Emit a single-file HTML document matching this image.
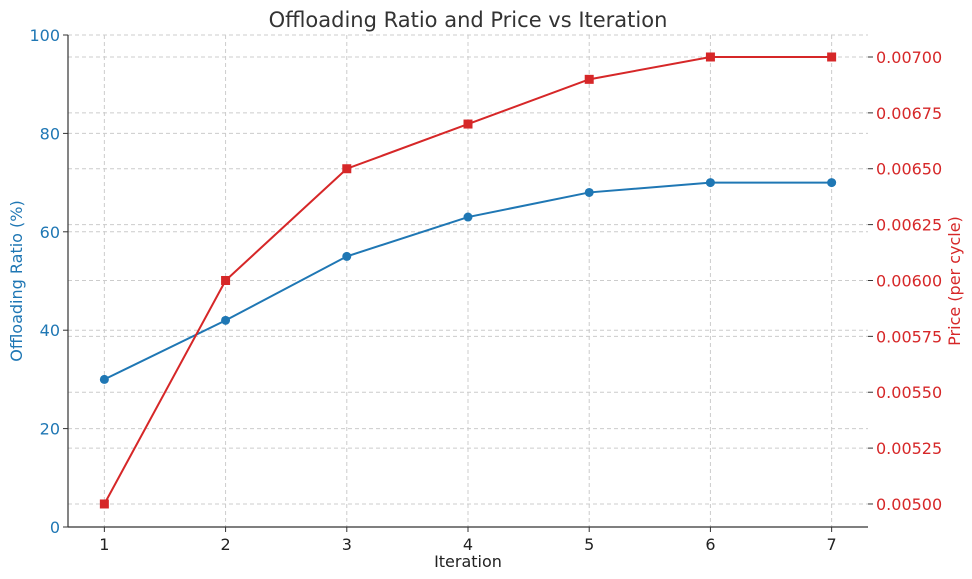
<!DOCTYPE html>
<html><head><meta charset="utf-8">
<style>
body{margin:0;background:#fff;}
svg{display:block;font-family:"DejaVu Sans","Liberation Sans",sans-serif;}
</style></head>
<body>
<svg id="chart" width="972" height="579" viewBox="0 0 972 579">
<g id="grid"></g>
<g id="axes"></g>
<g id="series"></g>
<text x="468" y="27" text-anchor="middle" font-size="21" fill="#333">Offloading Ratio and Price vs Iteration</text>
<text x="468" y="567" text-anchor="middle" font-size="16" fill="#222">Iteration</text>
<text transform="translate(22,281) rotate(-90)" text-anchor="middle" font-size="16" fill="#1f77b4">Offloading Ratio (%)</text>
<text transform="translate(960,281) rotate(-90)" text-anchor="middle" font-size="16" fill="#d62728">Price (per cycle)</text>
</svg>
<script>
const iterations=[1,2,3,4,5,6,7];
const ratioValues=[30,42,55,63,68,70,70];
const priceValues=[0.005,0.006,0.0065,0.0067,0.0069,0.007,0.007];
const leftTicks=[0,20,40,60,80,100];
const rightTicks=[0.005,0.00525,0.0055,0.00575,0.006,0.00625,0.0065,0.00675,0.007];
const NS="http://www.w3.org/2000/svg";
const L=68,R=868,T=35,B=527;
const xS=v=>L+(v-0.7)/(6.6)*(R-L);
const yL=v=>B-v/100*(B-T);
const pMin=0.004897,pMax=0.0070984;
const yR=v=>B-(v-pMin)/(pMax-pMin)*(B-T);
function mk(tag,attrs,parent){const e=document.createElementNS(NS,tag);for(const k in attrs)e.setAttribute(k,attrs[k]);parent.appendChild(e);return e;}
const grid=document.getElementById('grid'),axes=document.getElementById('axes'),series=document.getElementById('series');
iterations.forEach(v=>{
 const x=xS(v);
 const g=mk('line',{x1:x,x2:x,y1:T,y2:B,stroke:'#ccc','stroke-dasharray':'4,3','stroke-width':1},grid);
 
 
 mk('line',{x1:x,x2:x,y1:B,y2:B+5,stroke:'#333'},axes);
 const t=mk('text',{x:x,y:B+23,'text-anchor':'middle','font-size':16,fill:'#222'},axes);t.textContent=v;
 
 
});
leftTicks.forEach(v=>{
 const y=yL(v);
 const g=mk('line',{x1:L,x2:R,y1:y,y2:y,stroke:'#ccc','stroke-dasharray':'4,3'},grid);
 
 
 mk('line',{x1:L-5,x2:L,y1:y,y2:y,stroke:'#333'},axes);
 const t=mk('text',{x:L-8,y:y+6,'text-anchor':'end','font-size':16,fill:'#1f77b4'},axes);t.textContent=v;
 
 
});
rightTicks.forEach(v=>{
 const y=yR(v);
 const g=mk('line',{x1:L,x2:R,y1:y,y2:y,stroke:'#ccc','stroke-dasharray':'4,3'},grid);
 
 
 mk('line',{x1:R,x2:R+5,y1:y,y2:y,stroke:'#333'},axes);
 const t=mk('text',{x:R+8,y:y+6,'text-anchor':'start','font-size':16,fill:'#d62728'},axes);t.textContent=v.toFixed(5);
 
 
});
mk('line',{x1:L,x2:L,y1:T,y2:B,stroke:'#333','stroke-width':1.2},axes);
mk('line',{x1:L,x2:R,y1:B,y2:B,stroke:'#333','stroke-width':1.2},axes);
const bp=iterations.map((v,i)=>xS(v)+','+yL(ratioValues[i])).join(' ');
const bl=mk('polyline',{points:bp,fill:'none',stroke:'#1f77b4','stroke-width':2},series);


const rp=iterations.map((v,i)=>xS(v)+','+yR(priceValues[i])).join(' ');
const rl=mk('polyline',{points:rp,fill:'none',stroke:'#d62728','stroke-width':2},series);


iterations.forEach((v,i)=>{
 const c=mk('circle',{cx:xS(v),cy:yL(ratioValues[i]),r:4.5,fill:'#1f77b4'},series);
 
 
 const s=mk('rect',{x:xS(v)-4.5,y:yR(priceValues[i])-4.5,width:9,height:9,fill:'#d62728'},series);
 
 
});
</script>
</body></html>
